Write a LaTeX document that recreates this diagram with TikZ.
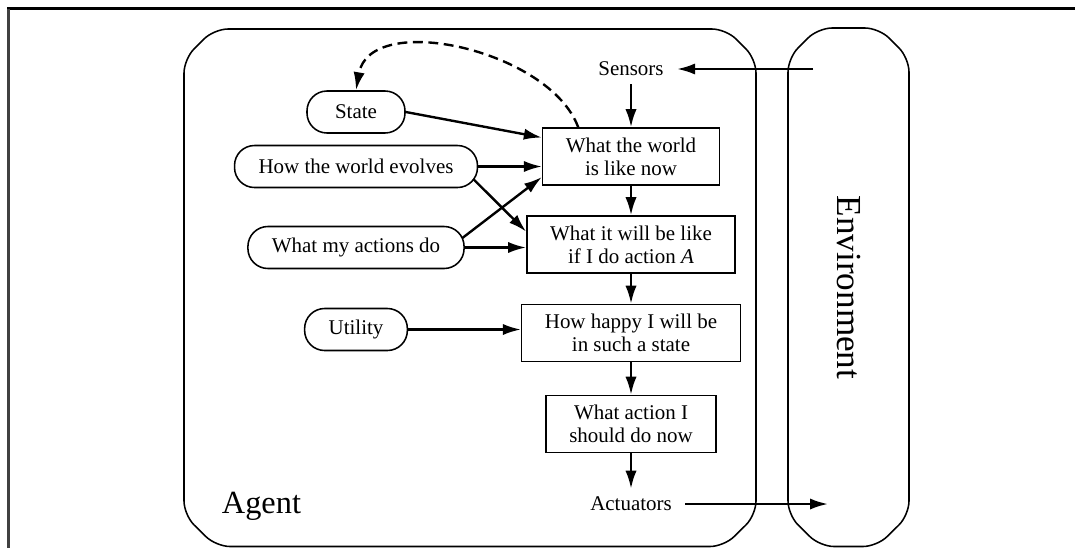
\documentclass[tikz,border=0pt]{standalone}
\usepackage{fontspec}
\setmainfont{Liberation Serif}
\usepackage{tikz}
\usetikzlibrary{arrows.meta, calc}

\begin{document}
\begin{tikzpicture}[x=0.025cm, y=-0.025cm,
    box/.style={draw, line width=1.1pt, align=center, inner xsep=0.58cm, minimum height=1.425cm, font=\fontsize{14.9}{16.6}\selectfont},
    pill/.style={draw, rounded corners=0.5cm, line width=1.1pt, inner xsep=0.6cm, minimum height=1.05cm, minimum width=2.45cm, font=\fontsize{14.9}{16.6}\selectfont},
    port/.style={inner xsep=0.33cm, inner ysep=0.2cm, font=\fontsize{14.9}{16.6}\selectfont},
    arr/.style={-{Latex[length=0.45cm, width=0.28cm]}, line width=1.7pt},
    frame/.style={line width=1.1pt, rounded corners=0.35cm}]
    \useasboundingbox (0,0) rectangle (1075,548);

    % Page edges
    \draw[line width=2.6pt] (7,8.5) -- (1075,8.5);
    \draw[line width=1.8pt, black!75] (8.5,8.5) -- (8.5,548);

    % Agent and Environment
    \draw[frame] (184,59) -- (214,29) -- (726,29) -- (756,59) -- (756,515) -- (724,546.5) -- (216,546.5) -- (184,515) -- cycle;
    \draw[frame] (788,58) -- (818,28) -- (879,28) -- (909,58) -- (909,515) -- (877,546.5) -- (820,546.5) -- (788,515) -- cycle;
    \node[anchor=base west, font=\fontsize{23}{28}\selectfont] (agentlabel) at (217,513) {Agent};
    \node[rotate=-90, font=\fontsize{25}{30}\selectfont] (envlabel) at (848.5,287.5) {Environment};

    % Knowledge
    \node[pill] (state) at (356,112) {State};
    \node[pill] (evolves) at (356,166.5) {How the world evolves};
    \node[pill] (actions) at (356,247.5) {What my actions do};
    \node[pill] (utility) at (356,329.5) {Utility};

    % Reasoning chain
    \node[box] (world) at (631,156.5) {What the world\\is like now};
    \node[box] (will) at (631,244.5) {What it will be like\\if I do action \textit{A}};
    \node[box] (happy) at (631,333) {How happy I will be\\in such a state};
    \node[box] (decide) at (631,424) {What action I\\should do now};

    \node[port] (sensors) at (631,69) {Sensors};
    \node[port] (actuators) at (631,504) {Actuators};
    \coordinate (percept) at (813,69);
    \coordinate (effect) at (828,504);

    % Arrows
    \draw[arr] (percept) -- (sensors);
    \draw[arr] (sensors) -- (world);
    \draw[arr] (world) -- (will);
    \draw[arr] (will) -- (happy);
    \draw[arr] (happy) -- (decide);
    \draw[arr] (decide) -- (actuators);
    \draw[arr] (actuators) -- (effect);

    \draw[arr] (state.east) -- (world.168);
    \draw[arr] (evolves.east) -- (evolves.east -| world.west);
    \draw[arr] ($(evolves.east)+(-5,12.5)$) -- (will.173);
    \draw[arr] ($(actions.east)+(-2.5,-9.5)$) -- (world.193);
    \draw[arr] (actions.east) -- (actions.east -| will.west);
    \draw[arr] (utility.east) -- (utility.east -| happy.west);

    \draw[arr, dash pattern=on 7pt off 4pt] (world.151) .. controls (550,50) and (370,10) .. (state.north);
\end{tikzpicture}
\end{document}
